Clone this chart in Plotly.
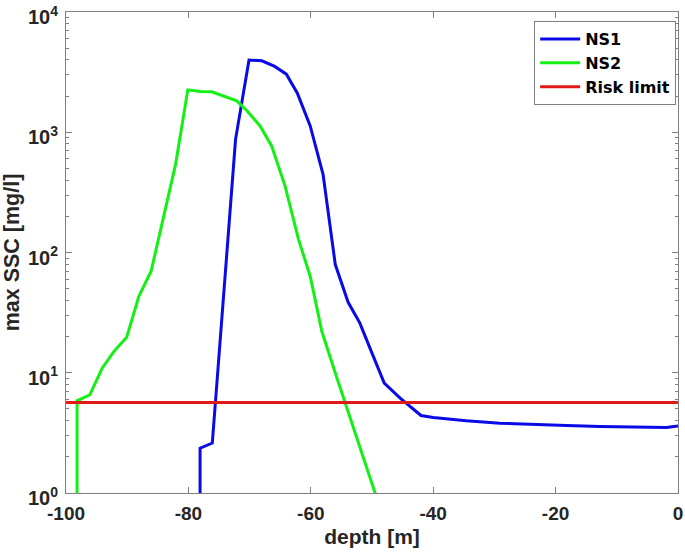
import plotly.graph_objects as go

# NS1 (blue)
ns1_depth = [-78.1, -78.1, -76.1, -72.3, -70.1, -68.0, -65.9, -64.0, -62.2, -60.1, -58.0,
             -56.0, -53.9, -52.0, -50.1, -48.0, -45.4, -42.0, -40.0, -34.6, -29.1, -23.7,
             -18.2, -12.8, -7.4, -1.9, 0.0]
ns1_ssc = [0.01, 2.36, 2.6, 873, 3990, 3930, 3527, 3044, 2113, 1129, 447,
           79.4, 38.5, 26, 15, 8.2, 6.15, 4.41, 4.24, 3.98, 3.81, 3.71,
           3.64, 3.57, 3.53, 3.50, 3.6]

# NS2 (green)
ns2_depth = [-98.2, -98.2, -96.1, -94.1, -92.2, -90.1, -88.1, -86.1, -82.1, -80.1, -78.1,
             -76.2, -72.1, -70.4, -68.3, -66.4, -64.2, -62.0, -60.1, -58.2, -56.0, -48.0]
ns2_ssc = [0.01, 5.84, 6.56, 10.9, 15.0, 19.7, 43.2, 69.8, 541, 2252, 2184,
           2168, 1823, 1505, 1129, 769, 357, 128, 63.5, 22.1, 9.94, 0.59]

# Risk limit
risk_depth = [-100, 0]
risk_value = [5.65, 5.65]

x_ticks = [-100, -80, -60, -40, -20, 0]
y_ticks = [1, 10, 100, 1000, 10000]
y_ticktext = ["10<sup>0</sup>", "10<sup>1</sup>", "10<sup>2</sup>", "10<sup>3</sup>", "10<sup>4</sup>"]
y_minor = [m * d for d in (1, 10, 100, 1000) for m in range(2, 10)]

FONT = "Liberation Sans, Arial, Helvetica, sans-serif"
LEGFONT = "DejaVu Sans, Verdana, sans-serif"
AX = "#808080"
TXT = "#262626"

fig = go.Figure()
fig.add_trace(go.Scatter(x=ns1_depth, y=ns1_ssc, mode="lines", name="NS1",
                         line=dict(color="#0a0ae6", width=3)))
fig.add_trace(go.Scatter(x=ns2_depth, y=ns2_ssc, mode="lines", name="NS2",
                         line=dict(color="#14f014", width=3)))
fig.add_trace(go.Scatter(x=risk_depth, y=risk_value, mode="lines", name="Risk limit",
                         line=dict(color="#e01818", width=3)))

fig.update_layout(
    width=685, height=554,
    margin=dict(l=65.5, r=6.5, t=12.4, b=61),
    paper_bgcolor="white", plot_bgcolor="white",
    font=dict(family=FONT, color=TXT),
    legend=dict(x=0.997, y=0.981, xanchor="right", yanchor="top",
                bgcolor="white", bordercolor=AX, borderwidth=1,
                font=dict(family=LEGFONT, size=16, color="black", weight="bold"),
                tracegroupgap=0, itemwidth=40),
    showlegend=True,
)
fig.update_xaxes(
    range=[-100.01, 0.01], tickvals=x_ticks, ticktext=[str(v) for v in x_ticks],
    showgrid=False, zeroline=False, automargin=False,
    showline=True, linecolor=AX, linewidth=1, mirror="ticks",
    ticks="inside", ticklen=6, tickcolor=AX,
    ticklabeloverflow="allow", ticklabelstandoff=3,
    tickfont=dict(family=FONT, size=19, color=TXT, weight="bold"),
    title=dict(text="depth [m]", font=dict(family=FONT, size=21, color=TXT, weight="bold"),
               standoff=6),
)
fig.update_yaxes(
    type="log", range=[-0.0002, 4.0002], tickvals=y_ticks, ticktext=y_ticktext,
    showgrid=False, zeroline=False, automargin=False,
    showline=True, linecolor=AX, linewidth=1, mirror="ticks",
    ticks="inside", ticklen=6, tickcolor=AX,
    ticklabeloverflow="allow", ticklabelstandoff=3, ticklabelshift=5,
    minor=dict(tickvals=y_minor, ticks="inside", ticklen=3, tickcolor=AX, showgrid=False),
    tickfont=dict(family=FONT, size=20, color=TXT, weight="bold"),
    title=dict(text="max SSC [mg/l]", font=dict(family=FONT, size=21.5, color=TXT, weight="bold"),
               standoff=2),
)

# remove the default 8px page margin so the figure fills the window exactly
fig.write_html("out.html", config={"displayModeBar": False},
               post_script="document.body.style.margin='0';")
